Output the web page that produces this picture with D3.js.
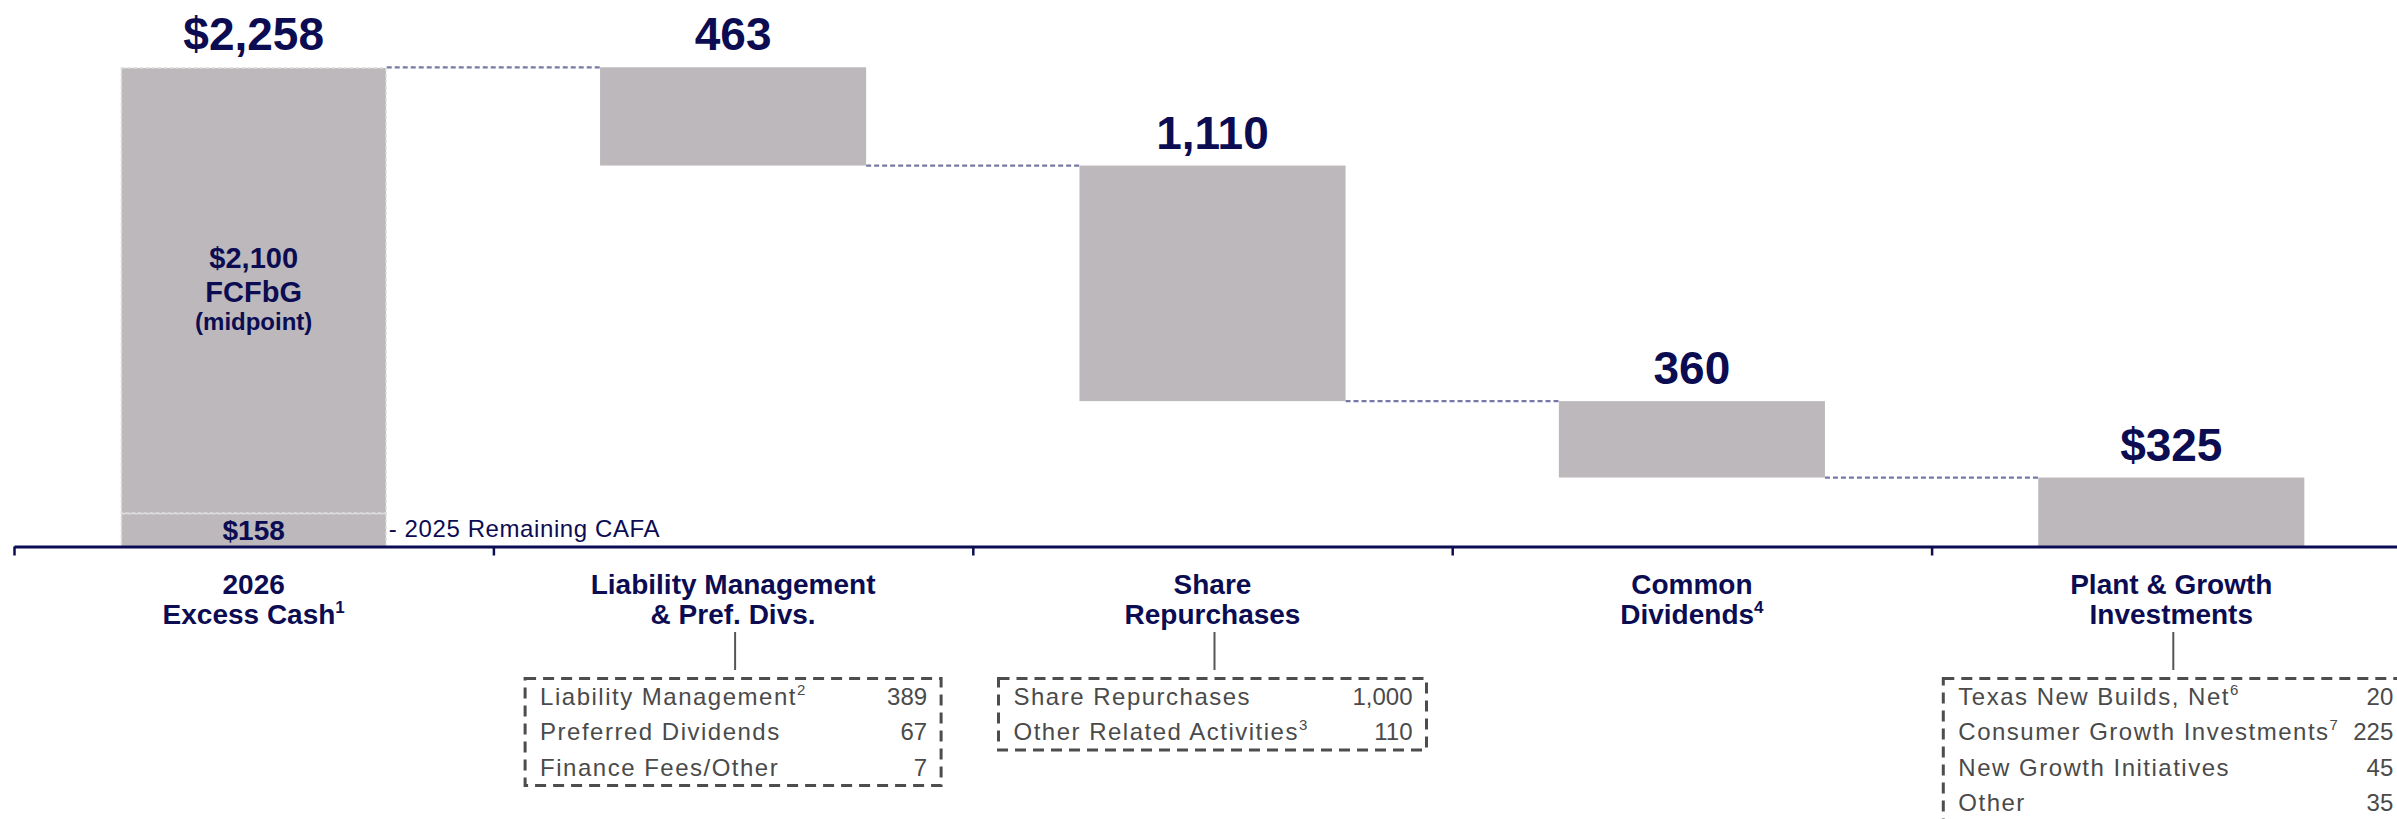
<!DOCTYPE html>
<meta charset="utf-8">
<title>2026 excess cash waterfall</title>
<body>
<script src="https://cdn.jsdelivr.net/npm/d3@7"></script>
<style>
html, body {
    margin: 0;
    background: #fff;
}

svg {
    display: block;
    font-family: "Liberation Sans", Arial, sans-serif;
}
</style>
<script>
var categories = ["2026 Excess Cash", "Liability Management & Pref. Divs.", "Share Repurchases", "Common Dividends", "Plant & Growth Investments"];
var categoryLines = [["2026", "Excess Cash"], ["Liability Management", "& Pref. Divs."], ["Share", "Repurchases"], ["Common", "Dividends"], ["Plant & Growth", "Investments"]];
var categoryNotes = ["1", "", "", "4", ""];

var barKinds = ["total", "decrease", "decrease", "decrease", "total"];
var barValues = [2258, 463, 1110, 360, 325];
var barLabels = ["$2,258", "463", "1,110", "360", "$325"];

var startParts = [158, 2100];
var startPartLabels = [["$158"], ["$2,100", "FCFbG", "(midpoint)"]];
var startNote = "- 2025 Remaining CAFA";

var liabilityItems = ["Liability Management", "Preferred Dividends", "Finance Fees/Other"];
var liabilityNotes = ["2", "", ""];
var liabilityValues = [389, 67, 7];

var repurchaseItems = ["Share Repurchases", "Other Related Activities"];
var repurchaseNotes = ["", "3"];
var repurchaseValues = [1000, 110];

var investmentItems = ["Texas New Builds, Net", "Consumer Growth Investments", "New Growth Initiatives", "Other"];
var investmentNotes = ["6", "7", "", ""];
var investmentValues = [20, 225, 45, 35];

var width = 2397,
    height = 819,
    axisY = 546.5,
    navy = "#0c0c52",
    barFill = "#bcb8bc";

var svg = d3.select("body").append("svg")
    .attr("width", width)
    .attr("height", height);

// running totals for the waterfall
var level = 0;
var bars = barValues.map(function(v, i) {
    var d = {cat: categories[i], label: barLabels[i], kind: barKinds[i]};
    if (barKinds[i] === "total") {
        d.y0 = 0; d.y1 = v; level = v;
    } else {
        d.y0 = level - v; d.y1 = level; level = d.y0;
    }
    return d;
});

var x = d3.scaleBand()
    .domain(categories)
    .range([14, 2411]);

var xBar = d3.scaleBand()
    .domain(categories)
    .range([14, 2411])
    .paddingInner(0.445)
    .paddingOuter(0.2225);

var y = d3.scaleLinear()
    .domain([0, d3.max(bars, function(d) { return d.y1; })])
    .range([axisY, 67.3]);

// connectors between bars
svg.append("g").selectAll("line")
    .data(d3.pairs(bars))
    .enter().append("line")
    .attr("x1", function(p) { return xBar(p[0].cat) + xBar.bandwidth(); })
    .attr("x2", function(p) { return xBar(p[1].cat); })
    .attr("y1", function(p) { return y(p[1].y1); })
    .attr("y2", function(p) { return y(p[1].y1); })
    .attr("stroke", "#7878a6")
    .attr("stroke-width", 2.2)
    .attr("stroke-dasharray", "5,3");

// first bar is split in two stacked parts
var cum = 0;
var parts = startParts.map(function(v, i) {
    var p = {y0: cum, y1: cum + v, lines: startPartLabels[i]};
    cum += v;
    return p;
});

svg.append("g").selectAll("rect")
    .data(bars.slice(1))
    .enter().append("rect")
    .attr("x", function(d) { return xBar(d.cat); })
    .attr("width", xBar.bandwidth())
    .attr("y", function(d) { return y(d.y1); })
    .attr("height", function(d) { return y(d.y0) - y(d.y1); })
    .attr("fill", barFill);

var first = svg.append("g");
first.selectAll("rect")
    .data(parts)
    .enter().append("rect")
    .attr("x", xBar(categories[0]) + 0.75)
    .attr("width", xBar.bandwidth() - 1.5)
    .attr("y", function(d) { return y(d.y1) + 0.75; })
    .attr("height", function(d) { return y(d.y0) - y(d.y1) - 0.75; })
    .attr("fill", barFill)
    .attr("stroke", "#dcdcdc")
    .attr("stroke-width", 1.5)
    .attr("stroke-dasharray", "4,2");

var cx0 = xBar(categories[0]) + xBar.bandwidth() / 2;

first.append("text")
    .attr("x", cx0)
    .attr("y", (y(parts[0].y0) + y(parts[0].y1)) / 2 + 10)
    .attr("text-anchor", "middle")
    .attr("font-size", 28)
    .attr("font-weight", "bold")
    .attr("fill", navy)
    .text(parts[0].lines[0]);

var mid1 = (y(parts[1].y0) + y(parts[1].y1)) / 2;
first.selectAll("text.inner")
    .data(parts[1].lines)
    .enter().append("text")
    .attr("class", "inner")
    .attr("x", cx0)
    .attr("y", function(d, i) { return mid1 + [-22, 12, 40][i]; })
    .attr("text-anchor", "middle")
    .attr("font-size", function(d, i) { return i < 2 ? 29 : 24; })
    .attr("font-weight", "bold")
    .attr("fill", navy)
    .text(function(d) { return d; });

svg.append("text")
    .attr("x", xBar(categories[0]) + xBar.bandwidth() + 2)
    .attr("y", 537)
    .attr("font-size", 24)
    .attr("letter-spacing", 0.6)
    .attr("fill", navy)
    .text(startNote);

// value labels above bars
svg.append("g").selectAll("text")
    .data(bars)
    .enter().append("text")
    .attr("x", function(d) { return xBar(d.cat) + xBar.bandwidth() / 2; })
    .attr("y", function(d) { return y(d.y1) - 17; })
    .attr("text-anchor", "middle")
    .attr("font-size", 46)
    .attr("font-weight", "bold")
    .attr("fill", navy)
    .text(function(d) { return d.label; });

// axis with ticks between categories
var bounds = d3.scaleLinear()
    .domain([0, categories.length])
    .range(x.range());

var axis = svg.append("g")
    .attr("transform", "translate(0," + axisY + ")")
    .call(d3.axisBottom(bounds)
        .tickValues(d3.range(categories.length))
        .tickSize(9)
        .tickSizeOuter(0)
        .tickFormat(""));

axis.select(".domain").attr("stroke", navy).attr("stroke-width", 3);
axis.selectAll(".tick line").attr("stroke", navy).attr("stroke-width", 2.5);

// category titles
var titles = svg.append("g").selectAll("text")
    .data(categories)
    .enter().append("text")
    .attr("text-anchor", "middle")
    .attr("font-size", 28)
    .attr("font-weight", "bold")
    .attr("fill", navy);

titles.each(function(c, i) {
    var t = d3.select(this),
        cx = x(c) + x.bandwidth() / 2;
    categoryLines[i].forEach(function(line, j) {
        t.append("tspan")
            .attr("x", cx)
            .attr("y", 594 + j * 30)
            .text(line);
        if (j === categoryLines[i].length - 1 && categoryNotes[i]) {
            t.append("tspan")
                .attr("font-size", 17)
                .attr("dy", -11)
                .text(categoryNotes[i]);
        }
    });
});

// breakdown boxes
var details = [
    {cat: categories[1], items: liabilityItems, notes: liabilityNotes, values: liabilityValues, dx: -208, w: 416},
    {cat: categories[2], items: repurchaseItems, notes: repurchaseNotes, values: repurchaseValues, dx: -214, w: 428},
    {cat: categories[4], items: investmentItems, notes: investmentNotes, values: investmentValues, dx: -228, w: 464}
];

var rowH = 35.5,
    boxTop = 678.5;

var box = svg.append("g").selectAll("g")
    .data(details)
    .enter().append("g")
    .attr("transform", function(d) {
        return "translate(" + (x(d.cat) + x.bandwidth() / 2) + ",0)";
    });

box.append("line")
    .attr("x1", 2).attr("x2", 2)
    .attr("y1", 632).attr("y2", 670)
    .attr("stroke", "#555")
    .attr("stroke-width", 2);

box.append("rect")
    .attr("x", function(d) { return d.dx; })
    .attr("y", boxTop)
    .attr("width", function(d) { return d.w; })
    .attr("height", function(d) { return 26 + rowH * (d.items.length - 1) + 10; })
    .attr("fill", "none")
    .attr("stroke", "#4d4d4d")
    .attr("stroke-width", 3)
    .attr("stroke-dasharray", "11,7");

box.each(function(d) {
    var g = d3.select(this);
    d.items.forEach(function(item, i) {
        var by = boxTop + 26 + i * rowH;
        var t = g.append("text")
            .attr("x", d.dx + 15)
            .attr("y", by)
            .attr("font-size", 24)
            .attr("letter-spacing", 1.5)
            .attr("fill", "#4a4a4a")
            .text(item);
        if (d.notes[i]) {
            t.append("tspan")
                .attr("font-size", 15)
                .attr("dy", -10)
                .text(d.notes[i]);
        }
        g.append("text")
            .attr("x", d.dx + d.w - 14)
            .attr("y", by)
            .attr("text-anchor", "end")
            .attr("font-size", 24)
            .attr("fill", "#4a4a4a")
            .text(d3.format(",")(d.values[i]));
    });
});
</script>
